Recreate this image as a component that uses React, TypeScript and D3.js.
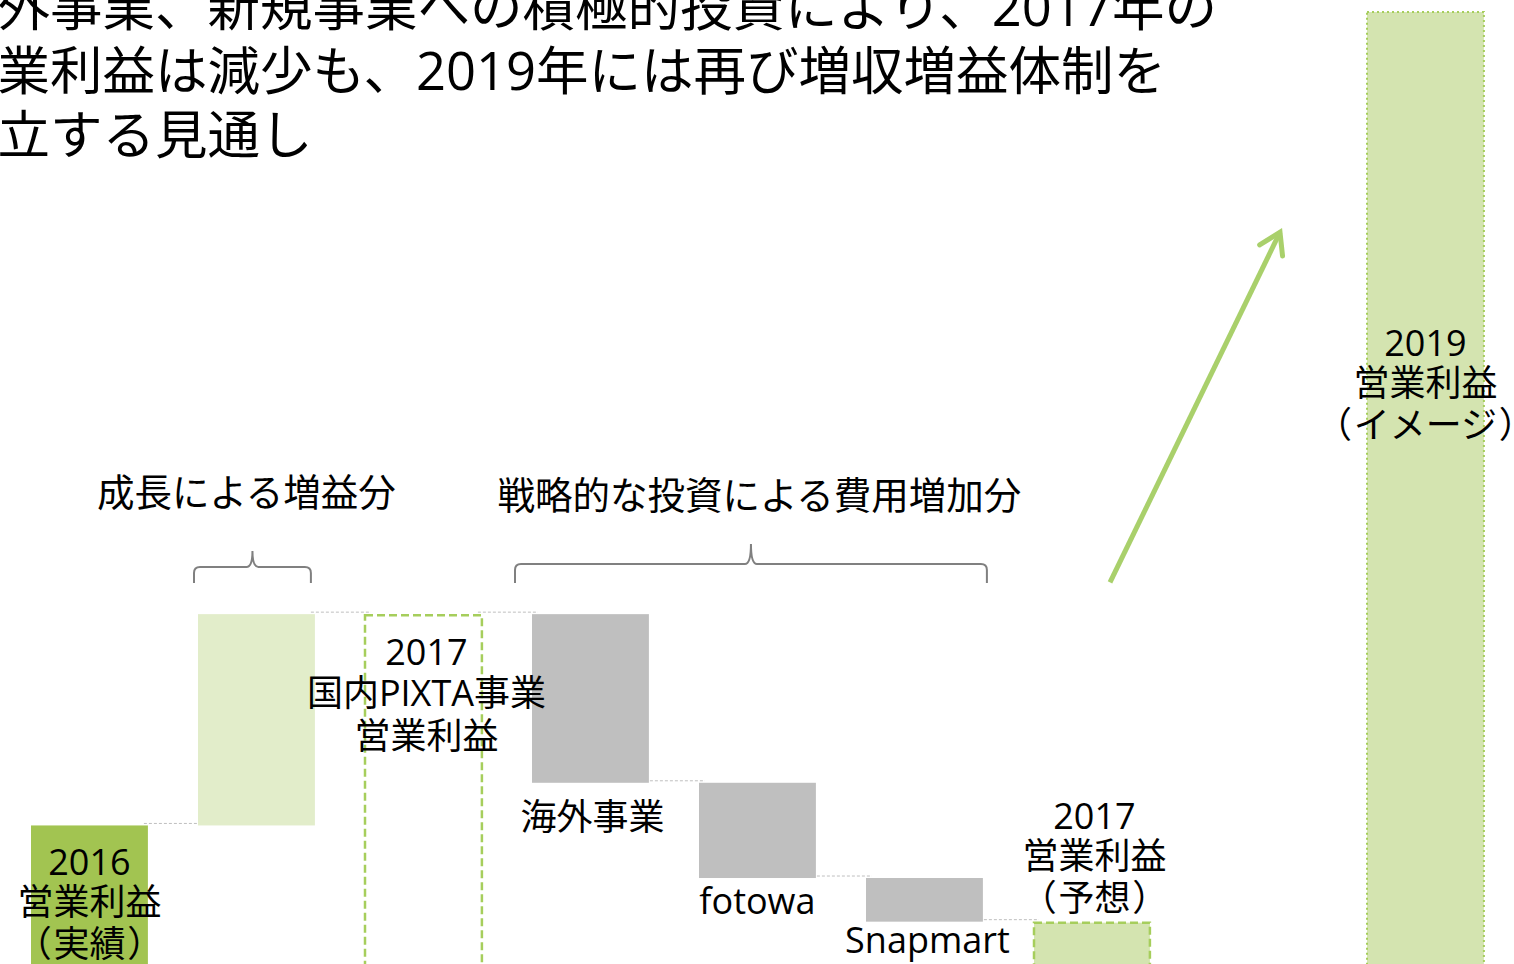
import React from "react";
import * as d3 from "d3";

// ---------- data ----------
const categories = ["2016", "growth", "domestic2017", "overseas", "fotowa", "snapmart", "forecast2017", "arrow", "2019"];
const start2016 = 18.0;
const stepKeys = ["growth", "overseas", "fotowa", "snapmart"];
const stepDeltas = [21.3, -17.0, -9.6, -4.4];
const value2019 = 100;
const arrowFromValue = 42.5;
const arrowToValue = 77.8;

const titleLines = [
  "海外事業、新規事業への積極的投資により、2017年の",
  "営業利益は減少も、2019年には再び増収増益体制を",
  "確立する見通し",
];
const label2016 = ["2016", "営業利益", "（実績）"];
const labelDomestic = ["2017", "国内PIXTA事業", "営業利益"];
const labelForecast = ["2017", "営業利益", "（予想）"];
const label2019 = ["2019", "営業利益", "（イメージ）"];
const stepLabels = ["海外事業", "fotowa", "Snapmart"];
const braceLabels = ["成長による増益分", "戦略的な投資による費用増加分"];

const W = 1514;
const H = 964;
const FONT = "'Open Sans', 'Noto Sans CJK JP', sans-serif";

const C_DARK = "#A2C451";
const C_LIGHT = "#E2EDCA";
const C_MID = "#D4E4B0";
const C_GREEN_LINE = "#A6CE5C";
const C_GRAY = "#BFBFBF";
const C_ARROW = "#A9D06B";

export default function App() {
  const x = d3
    .scaleBand<string>()
    .domain(categories)
    .range([31, 31 + 167 * (categories.length - 0.3)])
    .paddingInner(0.3)
    .paddingOuter(0);
  const y = d3.scaleLinear().domain([0, 100]).range([1004, 12]);
  const bw = x.bandwidth();
  const cx = (k: string) => (x(k) as number) + bw / 2;

  // waterfall levels
  const levels: { key: string; from: number; to: number }[] = [];
  let cur = start2016;
  stepKeys.forEach((k, i) => {
    const nxt = cur + stepDeltas[i];
    levels.push({ key: k, from: cur, to: nxt });
    cur = nxt;
  });
  const domesticValue = levels[0].to;
  const forecastValue = cur;

  const connectors: { a: string; b: string; v: number }[] = [
    { a: "2016", b: "growth", v: start2016 },
    { a: "growth", b: "domestic2017", v: domesticValue },
    { a: "domestic2017", b: "overseas", v: domesticValue },
    { a: "overseas", b: "fotowa", v: levels[1].to },
    { a: "fotowa", b: "snapmart", v: levels[2].to },
    { a: "snapmart", b: "forecast2017", v: forecastValue },
  ];

  const brace = (x0: number, x1: number, yBase: number, yMid: number, yTip: number) => {
    const xm = (x0 + x1) / 2;
    const r = 6;
    return `M${x0},${yBase} L${x0},${yMid + r} Q${x0},${yMid} ${x0 + r},${yMid} L${xm - r},${yMid} Q${xm},${yMid} ${xm},${yTip} M${xm},${yTip} Q${xm},${yMid} ${xm + r},${yMid} L${x1 - r},${yMid} Q${x1},${yMid} ${x1},${yMid + r} L${x1},${yBase}`;
  };

  // arrow geometry
  const ax0 = (x("arrow") as number) - 90;
  const ax1 = (x("arrow") as number) + 80;
  const ay0 = y(arrowFromValue);
  const ay1 = y(arrowToValue);
  const ang = Math.atan2(ay1 - ay0, ax1 - ax0);
  const headLen = 24;
  const headAng = (32 * Math.PI) / 180;
  const h1 = [ax1 - headLen * Math.cos(ang - headAng), ay1 - headLen * Math.sin(ang - headAng)];
  const h2 = [ax1 - headLen * Math.cos(ang + headAng), ay1 - headLen * Math.sin(ang + headAng)];

  const labelStyle = { fontFamily: FONT, fontSize: 36, fill: "#000", textAnchor: "middle" as const };

  // parentheses get proportional widths plus a little spacing, other glyphs full width
  const renderLine = (t: string) => {
    const parts = t.split(/([（）])/).filter((s) => s.length > 0);
    return parts.map((p, j) => {
      const isParen = p === "（" || p === "）";
      const prevOpen = j > 0 && parts[j - 1] === "（";
      const dx = p === "）" ? 3 : prevOpen ? 3 : 0;
      return (
        <tspan key={j} dx={dx || undefined} style={isParen ? { fontFeatureSettings: "'palt'" } : undefined}>
          {p}
        </tspan>
      );
    });
  };

  const multi = (lines: string[], xc: number, baselines: number[]) =>
    lines.map((t, i) => (
      <text key={i} x={xc} y={baselines[i]} style={labelStyle}>
        {renderLine(t)}
      </text>
    ));

  const top2016 = y(start2016);
  const topDom = y(domesticValue);
  const topFc = y(forecastValue);

  return (
    <svg width={W} height={H} style={{ position: "absolute", left: 0, top: 0, background: "#fff", overflow: "hidden" }}>
      <rect x={0} y={0} width={W} height={H} fill="#fff" />
      {/* title */}
      {titleLines.map((t, i) => (
        <text key={i} x={-55} y={26 + i * 64} style={{ fontFamily: FONT, fontSize: 52.5, fill: "#000" }}>
          {t}
        </text>
      ))}

      {/* connectors */}
      {connectors.map((c, i) => (
        <line
          key={i}
          x1={(x(c.a) as number) + bw - 4}
          x2={(x(c.b) as number) + 6}
          y1={y(c.v) - 2}
          y2={y(c.v) - 2}
          stroke={C_GRAY}
          strokeWidth={1}
          strokeDasharray="3 2"
        />
      ))}

      {/* 2016 bar */}
      <rect x={x("2016")} y={top2016} width={bw} height={y(0) - top2016} fill={C_DARK} />

      {/* step bars */}
      {levels.map((l) => {
        const yt = y(Math.max(l.from, l.to));
        const yb = y(Math.min(l.from, l.to));
        return (
          <rect
            key={l.key}
            x={x(l.key)}
            y={yt}
            width={bw}
            height={yb - yt}
            fill={l.to >= l.from ? C_LIGHT : C_GRAY}
          />
        );
      })}

      {/* 2017 domestic dashed box */}
      <rect
        x={x("domestic2017")}
        y={topDom + 1}
        width={bw}
        height={y(0) - topDom}
        fill="none"
        stroke={C_GREEN_LINE}
        strokeWidth={2.5}
        strokeDasharray="8 4"
      />

      {/* 2017 forecast */}
      <rect
        x={(x("forecast2017") as number) + 1}
        y={topFc + 1}
        width={bw - 1}
        height={y(0) - topFc}
        fill={C_MID}
        stroke={C_GREEN_LINE}
        strokeWidth={2.5}
        strokeDasharray="8 4"
      />

      {/* 2019 image */}
      <rect
        x={x("2019")}
        y={y(value2019)}
        width={bw}
        height={y(0) - y(value2019)}
        fill={C_MID}
        stroke={C_GREEN_LINE}
        strokeWidth={2}
        strokeDasharray="2 3"
      />

      {/* arrow */}
      <line x1={ax0} y1={ay0} x2={ax1} y2={ay1} stroke={C_ARROW} strokeWidth={5} />
      <path
        d={`M${h1[0]},${h1[1]} L${ax1},${ay1} L${h2[0]},${h2[1]}`}
        fill="none"
        stroke={C_ARROW}
        strokeWidth={5}
        strokeLinecap="round"
        strokeLinejoin="miter"
      />

      {/* braces */}
      <path d={brace((x("growth") as number) - 4, (x("growth") as number) + bw - 4, 583, 567, 551)} fill="none" stroke="#808080" strokeWidth={2} />
      <path d={brace((x("overseas") as number) - 17, (x("snapmart") as number) + bw + 4, 583, 564, 544)} fill="none" stroke="#808080" strokeWidth={2} />
      <text x={cx("growth") - 10} y={506} style={{ ...labelStyle, fontSize: 37.5 }}>
        {braceLabels[0]}
      </text>
      <text x={cx("fotowa") + 2} y={509} style={{ ...labelStyle, fontSize: 37.5 }}>
        {braceLabels[1]}
      </text>

      {/* labels */}
      {multi(label2016, cx("2016"), [top2016 + 50, top2016 + 90, top2016 + 132])}
      {multi(labelDomestic, cx("domestic2017") + 3, [topDom + 51, topDom + 92, topDom + 135])}
      {multi(labelForecast, cx("forecast2017") + 3, [topFc - 93, topFc - 53, topFc - 11])}
      {multi(label2019, cx("2019"), [356, 396, 438])}

      <text x={cx("overseas") + 2} y={y(levels[1].to) + 47} style={labelStyle}>
        {stepLabels[0]}
      </text>
      <text x={cx("fotowa")} y={y(levels[2].to) + 36} style={labelStyle}>
        {stepLabels[1]}
      </text>
      <text x={cx("snapmart") + 3} y={y(levels[3].to) + 31} style={labelStyle}>
        {stepLabels[2]}
      </text>
    </svg>
  );
}
